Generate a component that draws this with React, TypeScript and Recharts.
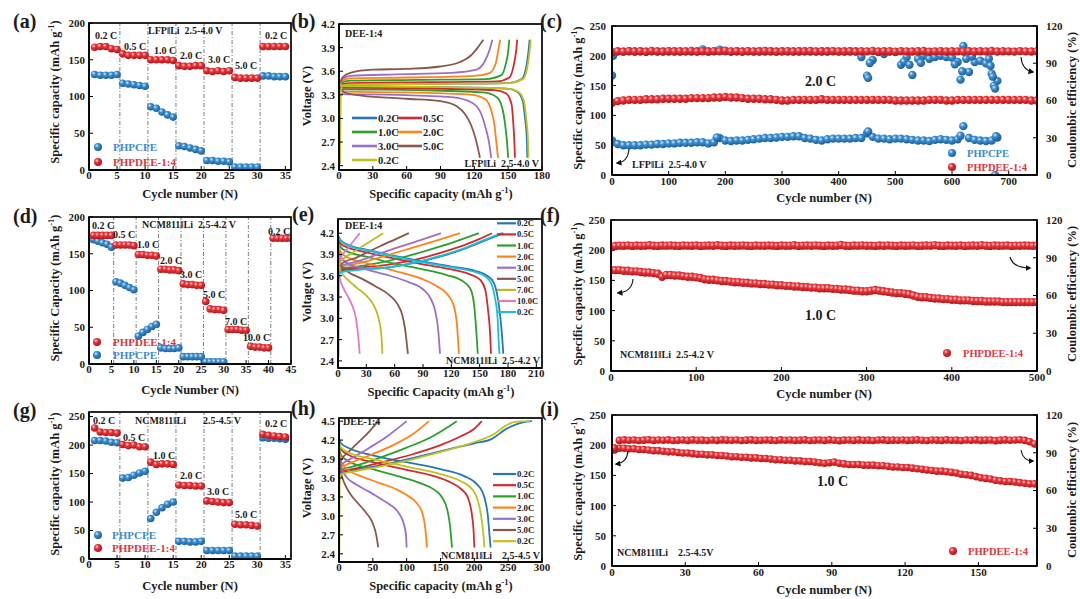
import React from "react";
import { ScatterChart, Scatter, LineChart, Line, XAxis, YAxis, ReferenceLine } from "recharts";

const FONT = '"Liberation Serif", "Times New Roman", Times, serif';
const INK = "#1b1b1b";
const RED_TXT = "#e0363c";
const BLUE_TXT = "#3a8cc9";

const C02 = "#2677b8";
const C05 = "#d42a2f";
const C10 = "#2ca02c";
const C20 = "#ff8418";
const C30 = "#9c6fc8";
const C50 = "#8c564b";
const C70 = "#bcbd22";
const C100 = "#e37ac6";
const C02C = "#1cbfd8";
const OLIVE = "#c2c21e";

// ---------- (a) LFP rate ----------
const A_RED = [167,168,168,165,164, 158,156,156,156,156, 150,150,150,150,149, 142,141,141,142,142, 135,134,135,134,135, 126,125,125,125,125, 168,168,168,168,168];
const A_BLUE = [130,129,129,129,130, 118,117,116,115,114, 86,84,79,75,72, 33,32,30,28,26, 13,13,12,12,11, 4,4,4,4,4, 128,128,127,127,127];
const A_DIV = [5.5, 10.5, 15.5, 20.5, 25.5, 30.5];
const A_XTICKS = [0, 5, 10, 15, 20, 25, 30, 35];
const CAP200_TICKS = [0, 50, 100, 150, 200];

// ---------- (d) NCM811 rate 2.5-4.2 ----------
const D_RED = [175,175,175,175,175, 162,162,162,162,161, 149,149,148,148,147, 129,129,128,128,127, 109,108,108,107,107, 85,75,74,74,73, 47,47,47,46,46, 24,23,23,22,22, 171,171,171,171,171];
const D_BLUE = [169,167,165,163,159, 112,110,107,104,101, 38,43,47,51,54, 22,21,21,21,22, 10,10,10,10,10, 3,3,3,3,3];
const D_DIV = [5.5, 10.5, 15.5, 20.5, 25.5, 30.5, 35.5, 40.5];
const D_XTICKS = [0, 5, 10, 15, 20, 25, 30, 35, 40, 45];

// ---------- (g) NCM811 rate 2.5-4.5 ----------
const G_RED = [230,223,222,222,221, 201,199,200,197,197, 170,166,167,167,166, 130,129,129,128,128, 102,101,100,99,99, 61,60,60,59,58, 219,217,216,215,214];
const G_BLUE = [208,208,207,205,204, 142,143,147,151,154, 71,82,90,96,100, 31,31,30,30,31, 15,15,15,15,15, 5,5,5,5,5, 213,212,212,211,210];
const CAP250_TICKS = [0, 50, 100, 150, 200, 250];

// ---------- (b) LFP voltage profiles [capacity, voltage] ----------
const B_CH_02 = [[0,3.34],[3,3.42],[10,3.43],[80,3.44],[150,3.45],[162,3.5],[166,3.65],[168,3.85],[169,4.0]];
const B_DC_02 = [[0,3.45],[3,3.41],[80,3.4],[148,3.38],[158,3.34],[163,3.22],[165,3.0],[166.5,2.75],[167,2.5]];
const B_CH_05 = [[0,3.35],[3,3.44],[10,3.45],[80,3.46],[140,3.47],[151,3.52],[155,3.68],[157,3.85],[158,4.0]];
const B_DC_05 = [[0,3.45],[3,3.39],[80,3.38],[138,3.36],[148,3.32],[153,3.18],[154.5,2.95],[155.5,2.7],[156,2.5]];
const B_CH_10 = [[0,3.36],[3,3.46],[10,3.48],[70,3.49],[130,3.5],[144,3.55],[148,3.7],[150,3.85],[151,4.0]];
const B_DC_10 = [[0,3.45],[3,3.37],[70,3.36],[128,3.33],[140,3.27],[145,3.12],[147.5,2.9],[149,2.7],[150,2.5]];
const B_CH_20 = [[0,3.37],[3,3.48],[10,3.51],[60,3.52],[120,3.54],[134,3.58],[139,3.7],[141,3.85],[143,4.0]];
const B_DC_20 = [[0,3.44],[3,3.34],[60,3.33],[118,3.3],[130,3.24],[135,3.1],[138,2.9],[139.5,2.7],[141,2.5]];
const B_CH_30 = [[0,3.38],[3,3.5],[10,3.54],[50,3.56],[100,3.58],[122,3.62],[129,3.72],[133,3.85],[136,4.0]];
const B_DC_30 = [[0,3.44],[3,3.31],[50,3.3],[100,3.27],[118,3.2],[126,3.06],[130,2.88],[133,2.7],[135,2.5]];
const B_CH_50 = [[0,3.4],[3,3.52],[10,3.58],[30,3.62],[60,3.63],[90,3.66],[108,3.72],[117,3.8],[123,3.9],[128,4.0]];
const B_DC_50 = [[0,3.42],[5,3.33],[20,3.29],[60,3.25],[90,3.22],[105,3.15],[112,3.05],[117,2.92],[121,2.75],[125,2.5]];
const B_CH_02B = [[1,2.42],[1.5,3.3],[3,3.42],[10,3.43],[80,3.44],[150,3.45],[163,3.5],[167,3.65],[169,3.85],[170,4.0]];
const B_DC_02B = [[0,3.45],[3,3.41],[80,3.4],[149,3.38],[159,3.34],[164,3.22],[166,3.0],[167.5,2.75],[168,2.5]];
const B_LABELS = ["0.2C", "0.5C", "1.0C", "2.0C", "3.0C", "5.0C", "0.2C"];

// ---------- (e) NCM811 2.5-4.2 V profiles ----------
const E_CH_02 = [[0,3.62],[3,3.67],[20,3.69],[55,3.72],[80,3.78],[108,3.87],[130,3.96],[145,4.04],[160,4.12],[175,4.2]];
const E_DC_02 = [[0,4.17],[3,4.1],[10,4.04],[30,3.97],[60,3.88],[90,3.8],[120,3.73],[145,3.67],[158,3.6],[165,3.5],[169,3.3],[172,3.0],[174,2.7],[175,2.5]];
const E_CH_05 = [[0,3.63],[3,3.68],[20,3.71],[50,3.75],[80,3.82],[110,3.93],[135,4.04],[150,4.12],[163,4.2]];
const E_DC_05 = [[0,4.13],[3,4.05],[10,4.0],[30,3.93],[60,3.84],[90,3.76],[120,3.69],[140,3.62],[150,3.55],[156,3.4],[159,3.1],[161,2.8],[162,2.5]];
const E_CH_10 = [[0,3.64],[3,3.7],[20,3.73],[50,3.8],[80,3.9],[110,4.02],[130,4.11],[149,4.2]];
const E_DC_10 = [[0,4.1],[3,4.0],[10,3.94],[30,3.87],[60,3.77],[90,3.69],[115,3.61],[130,3.54],[140,3.42],[144,3.2],[146,2.9],[148,2.5]];
const E_CH_20 = [[0,3.65],[3,3.72],[20,3.77],[50,3.88],[80,4.0],[105,4.1],[129,4.2]];
const E_DC_20 = [[0,4.05],[3,3.93],[10,3.86],[30,3.78],[60,3.67],[90,3.55],[105,3.45],[115,3.35],[122,3.2],[126,2.9],[128,2.5]];
const E_CH_30 = [[0,3.66],[3,3.74],[20,3.8],[50,3.94],[80,4.07],[109,4.2]];
const E_DC_30 = [[0,4.0],[3,3.86],[10,3.78],[30,3.69],[55,3.6],[75,3.51],[90,3.41],[98,3.28],[103,3.1],[106,2.85],[108,2.5]];
const E_CH_50 = [[0,3.67],[3,3.76],[20,3.86],[45,4.02],[60,4.11],[75,4.2]];
const E_DC_50 = [[0,3.9],[3,3.75],[10,3.66],[25,3.56],[40,3.45],[55,3.32],[63,3.2],[68,3.05],[71,2.85],[74,2.5]];
const E_CH_70 = [[0,3.68],[3,3.8],[15,3.92],[30,4.05],[48,4.2]];
const E_DC_70 = [[0,3.82],[3,3.66],[10,3.55],[20,3.43],[30,3.32],[38,3.18],[43,3.0],[46,2.75],[47,2.5]];
const E_CH_100 = [[0,3.7],[3,3.85],[10,3.98],[17,4.1],[23,4.2]];
const E_DC_100 = [[0,3.72],[2,3.56],[6,3.42],[10,3.32],[15,3.18],[19,3.0],[21,2.8],[23,2.5]];
const E_CH_02B = [[0.5,2.45],[0.8,3.55],[3,3.65],[20,3.68],[55,3.72],[80,3.78],[108,3.88],[130,3.97],[145,4.05],[160,4.13],[174,4.2]];
const E_DC_02B = [[0,4.16],[3,4.09],[10,4.03],[30,3.96],[60,3.87],[90,3.79],[120,3.72],[143,3.66],[155,3.6],[162,3.5],[166,3.3],[169,3.0],[170,2.7],[171,2.5]];
const E_LABELS = ["0.2C", "0.5C", "1.0C", "2.0C", "3.0C", "5.0C", "7.0C", "10.0C", "0.2C"];

// ---------- (h) NCM811 2.5-4.5 V profiles ----------
const H_CH_02 = [[0,3.62],[3,3.68],[20,3.72],[60,3.8],[110,3.92],[160,4.05],[200,4.15],[226,4.22],[246,4.37],[260,4.44],[272,4.48],[285,4.5]];
const H_DC_02 = [[0,4.23],[3,4.15],[15,4.07],[50,3.96],[100,3.85],[150,3.74],[185,3.63],[204,3.5],[212,3.38],[217,3.2],[220,3.0],[222,2.75],[224,2.5]];
const H_CH_05 = [[0,3.64],[3,3.7],[20,3.74],[60,3.84],[110,3.98],[150,4.12],[180,4.26],[200,4.38],[211,4.5]];
const H_DC_05 = [[0,4.15],[3,4.05],[15,3.96],[50,3.85],[100,3.73],[140,3.63],[165,3.53],[180,3.43],[190,3.3],[196,3.05],[199,2.75],[200,2.5]];
const H_CH_10 = [[0,3.66],[3,3.73],[20,3.78],[60,3.92],[100,4.08],[140,4.27],[160,4.4],[174,4.5]];
const H_DC_10 = [[0,4.1],[3,3.96],[15,3.86],[50,3.74],[90,3.62],[120,3.52],[140,3.42],[152,3.3],[160,3.1],[164,2.85],[167,2.5]];
const H_CH_20 = [[0,3.68],[3,3.76],[20,3.85],[50,3.98],[80,4.12],[110,4.3],[133,4.5]];
const H_DC_20 = [[0,4.04],[3,3.86],[12,3.74],[35,3.62],[60,3.52],[85,3.42],[100,3.33],[115,3.2],[123,3.05],[127,2.85],[130,2.5]];
const H_CH_30 = [[0,3.7],[3,3.8],[20,3.92],[45,4.08],[70,4.25],[100,4.5]];
const H_DC_30 = [[0,3.98],[3,3.78],[10,3.63],[25,3.5],[45,3.38],[60,3.28],[75,3.18],[88,3.05],[95,2.9],[99,2.7],[100,2.5]];
const H_CH_50 = [[0,3.75],[3,3.88],[15,4.02],[30,4.18],[45,4.34],[58,4.5]];
const H_DC_50 = [[0,3.9],[3,3.68],[8,3.52],[16,3.36],[28,3.2],[40,3.05],[50,2.88],[55,2.7],[58,2.5]];
const H_CH_02B = [[0.5,2.42],[0.8,3.5],[3,3.66],[20,3.7],[60,3.78],[110,3.9],[160,4.04],[200,4.17],[230,4.3],[245,4.42],[260,4.49],[282,4.5]];
const H_DC_02B = [[0,4.18],[3,4.08],[15,4.0],[50,3.9],[100,3.78],[150,3.66],[180,3.55],[197,3.42],[205,3.25],[210,3.0],[213,2.75],[215,2.5]];
const H_LABELS = ["0.2C", "0.5C", "1.0C", "2.0C", "3.0C", "5.0C", "0.2C"];

// ---------- (c) LFP long cycling at 2.0 C (every 10 cycles) ----------
const C_RED_CAP = [121,124,125,126,126,126,127,127,127,128, 128,128,128,128,129,129,129,129,130,130, 131,130,130,129,128,128,128,127,127,126, 125,125,126,126,126,126,126,127,126,126, 126,126,126,126,126,126,126,126,126,126, 125,125,125,125,125,125,126,126,126,125, 125,126,126,126,126,126,126,126,126,126, 126,126,126,126,125,125];
const C_RED_CE = [98.9,99.6,99.4,99.8,99.5,99.7,99.3,99.9,99.6,99.4, 99.8,99.5,99.7,99.6,99.9,99.4,99.7,99.5,99.8,99.6, 100.1,99.5,99.7,99.4,99.8,99.6,99.5,99.9,99.7,99.4, 99.6,99.8,99.5,99.7,99.6,99.9,99.4,99.7,99.5,99.8, 99.6,99.5,99.8,99.4,99.7,99.6,99.9,99.5,99.7,99.6, 99.4,99.8,99.6,99.5,99.7,99.9,99.4,99.6,99.8,99.5, 99.7,99.6,99.4,99.8,99.5,99.7,99.6,99.9,99.5,99.7, 99.6,99.4,99.8,99.6,99.5,99.7];
const C_BLUE_CAP = [58,52,50,50,50,50,51,51,52,52, 53,53,54,54,54,55,55,53,55,62, 58,57,58,58,59,60,61,62,62,63, 64,64,65,65,62,61,59,58,60,61, 61,61,61,62,62,70,64,61,61,60, 61,61,60,59,58,58,57,59,60,59, 58,60,82,62,59,58,57,58,63];
const C_BLUE_CE = [80.2,99.6,99.4,99.7,99.5,99.6,99.4,99.7,99.5,99.6, 99.5,99.7,99.4,99.6,99.5,99.7,101.2,99.5,99.6,101.0, 99.6,99.4,99.7,99.5,99.6,99.4,99.7,99.5,99.6,99.5, 99.7,99.4,99.6,99.5,99.7,99.4,99.6,99.5,99.7,99.6, 99.4,99.6,99.5,99.7,95.0,80.0,92.6,99.0,97.4,99.5, 99.0,88.8,95.0,80.6,93.6,96.0,93.6,95.0,96.0,95.0, 94.6,91.0,104.0,83.0,91.0,92.0,90.0,81.6,75.8];
const C_BLUE_CAP_EXTRA = [[185,63],[452,73],[615,66],[676,0],[678,65]];
const C_BLUE_CE_EXTRA = [[2,96],[452,78.2],[455,90.2],[515,91.2],[525,88.8],[545,90.3],[605,89.2],[615,76.8],[618,83.5],[625,93.6],[635,95.5],[665,93.6],[668,88.0],[672,79.2],[674,72.0],[676,69.6]];
const C_XTICKS = [0, 100, 200, 300, 400, 500, 600, 700];

// ---------- (f) NCM811 long cycling 1.0 C (every 5 cycles) ----------
const F_RED_CAP = [167,167,167,166,166,165,165,164,163,163, 162,161,156,159,159,158,158,157,156,156, 155,154,152,151,151,150,149,149,148,147, 147,146,146,145,145,144,144,143,143,142, 142,141,141,140,140,139,139,138,138,137, 137,137,136,136,135,135,134,133,133,132, 132,133,134,133,132,131,130,129,129,128, 127,125,123,122,122,121,120,120,119,119, 118,118,117,117,117,116,116,116,115,115, 115,115,114,114,114,114,114,114,114,114, 114];
const F_RED_CE = [98.4,99.3,99.6,99.5,99.8,99.4,99.7,99.5,99.6,99.9, 99.5,99.4,99.7,99.6,99.8,99.5,99.4,99.7,99.6,99.5, 99.8,99.4,99.6,99.7,99.5,99.9,99.6,99.4,99.7,99.5, 99.6,99.8,99.5,99.4,99.7,99.6,99.5,99.8,99.6,99.4, 99.7,99.5,99.6,99.9,99.4,99.6,99.7,99.5,99.8,99.6, 99.4,99.7,99.5,99.6,100.1,99.5,99.4,99.7,99.6,99.8, 99.5,99.6,99.4,99.7,99.5,99.8,99.6,99.4,99.7,99.5, 99.6,99.8,99.4,99.5,99.7,99.6,100.0,99.5,99.4,99.7, 99.6,99.5,99.8,99.4,99.6,99.7,99.5,99.9,99.6,99.4, 99.7,99.5,99.6,99.8,99.4,99.6,99.5,99.7,99.6,99.5, 99.6];
const F_XTICKS = [0, 100, 200, 300, 400, 500];

// ---------- (i) NCM811 long cycling 2.5-4.5 V (odd cycles) ----------
const I_RED_CAP = [192,195,195,194,194,193,193,192,191,191, 190,189,189,188,187,187,186,185,185,184, 184,183,183,182,181,181,180,180,179,179, 178,178,177,176,176,175,175,174,174,173, 173,172,171,170,171,172,170,169,168,168, 168,167,167,167,166,166,165,164,164,163, 163,162,161,160,159,158,157,157,156,155, 154,152,151,150,148,146,145,144,142,141, 140,140,139,138,137,136,136];
const I_RED_CE = [93.8,99.8,100.2,99.9,100.1,99.7,100.0,100.3,99.8,100.1, 99.9,100.2,99.7,100.0,100.1,99.8,100.2,99.9,100.0,99.7, 100.1,99.8,100.2,100.0,99.9,100.1,99.7,100.0,100.2,99.8, 99.9,100.1,100.0,99.7,100.2,99.9,100.1,99.8,100.0,100.2, 99.7,100.0,100.1,99.8,100.2,99.9,99.6,100.0,100.1,99.8, 100.2,99.9,100.0,99.7,100.1,100.2,99.8,100.0,99.9,100.1, 99.8,100.0,100.2,99.9,99.7,100.1,100.0,99.8,100.2,99.9, 100.0,99.7,100.1,99.9,100.2,99.8,100.0,100.1,99.6,100.0, 100.2,99.9,100.1,100.3,99.8,98.8,97.0];
const I_XTICKS = [0, 30, 60, 90, 120, 150];
const CE_TICKS = [0, 30, 60, 90, 120];

// ---------- layout helpers ----------
type Rect = [number, number, number, number];
const YW = 44, XH = 24, TM = 6, RM = 8, RW = 40;
const R_A: Rect = [89, 23, 291, 170];
const R_B: Rect = [339, 24, 542, 170];
const R_C: Rect = [612, 26, 1037, 175];
const R_D: Rect = [89, 217, 291, 364];
const R_E: Rect = [338, 219, 542, 368];
const R_F: Rect = [611, 220, 1037, 371];
const R_G: Rect = [89, 412, 291, 559];
const R_H: Rect = [339, 418, 542, 562];
const R_I: Rect = [612, 415, 1037, 566];

function frame(rect: Rect, dual = false) {
  const [x0, y0, x1, y1] = rect;
  return {
    style: { position: "absolute" as const, left: x0 - YW, top: y0 - TM },
    width: x1 - x0 + YW + (dual ? RW : RM),
    height: y1 - y0 + TM + XH,
    margin: { top: TM, right: dual ? 0 : RM, bottom: 0, left: 0 },
  };
}

const tickStyle = { fontFamily: FONT, fontSize: 11, fontWeight: 700, fill: INK };
const axisLine = { stroke: "#000", strokeWidth: 1.5 };
const tickLine = { stroke: "#000", strokeWidth: 1 };

const sphere = (grad: string, r: number) => (p: any) =>
  p.cx == null ? <g /> : <circle cx={p.cx} cy={p.cy} r={r} fill={`url(#${grad})`} />;

const toPts = (vals: number[], start: number, step: number) => vals.map((v, i) => ({ x: start + i * step, y: v }));
const pairPts = (pairs: number[][]) => pairs.map(([x, y]) => ({ x, y }));

function RatePanel({ rect, xMax, xTicks, yMax, yTicks, red, blue, div }: any) {
  const f = frame(rect);
  return (
    <div style={f.style}>
      <ScatterChart width={f.width} height={f.height} margin={f.margin}>
        <XAxis dataKey="x" type="number" domain={[0, xMax]} ticks={xTicks} interval={0} allowDataOverflow height={XH}
          tick={tickStyle} axisLine={axisLine} tickLine={tickLine} tickSize={-4} tickMargin={5} />
        <YAxis dataKey="y" type="number" domain={[0, yMax]} ticks={yTicks} interval={0} allowDataOverflow width={YW}
          tick={tickStyle} axisLine={axisLine} tickLine={tickLine} tickSize={-4} tickMargin={8} />
        {div.map((d: number) => (
          <ReferenceLine key={d} x={d} stroke="#6d6d6d" strokeWidth={0.9} strokeDasharray="4 2 1 2" />
        ))}
        <Scatter data={toPts(blue, 1, 1)} shape={sphere("sphBlue", 3.8)} isAnimationActive={false} />
        <Scatter data={toPts(red, 1, 1)} shape={sphere("sphRed", 3.8)} isAnimationActive={false} />
      </ScatterChart>
    </div>
  );
}

function VoltPanel({ rect, xMax, xTicks, yDom, yTicks, curves }: any) {
  const f = frame(rect);
  return (
    <div style={f.style}>
      <LineChart width={f.width} height={f.height} margin={f.margin}>
        <XAxis dataKey="q" type="number" domain={[0, xMax]} ticks={xTicks} interval={0} allowDataOverflow height={XH}
          tick={tickStyle} axisLine={axisLine} tickLine={tickLine} tickSize={-4} tickMargin={5} />
        <YAxis type="number" domain={yDom} ticks={yTicks} interval={0} allowDataOverflow width={YW}
          tickFormatter={(v: number) => v.toFixed(1)}
          tick={tickStyle} axisLine={axisLine} tickLine={tickLine} tickSize={-4} tickMargin={8} />
        {curves.map((c: any, i: number) => (
          <Line key={i} data={c.pts.map(([q, v]: number[]) => ({ q, v }))} dataKey="v" type="monotone"
            stroke={c.color} strokeWidth={1.8} dot={false} isAnimationActive={false} />
        ))}
      </LineChart>
    </div>
  );
}

function CyclePanel({ rect, xMax, xTicks, series, r }: any) {
  const f = frame(rect, true);
  return (
    <div style={f.style}>
      <ScatterChart width={f.width} height={f.height} margin={f.margin}>
        <XAxis dataKey="x" type="number" domain={[0, xMax]} ticks={xTicks} interval={0} allowDataOverflow height={XH}
          tick={tickStyle} axisLine={axisLine} tickLine={tickLine} tickSize={-4} tickMargin={6} />
        <YAxis yAxisId="cap" dataKey="y" type="number" domain={[0, 250]} ticks={CAP250_TICKS} interval={0} allowDataOverflow width={YW}
          tick={tickStyle} axisLine={axisLine} tickLine={tickLine} tickSize={-4} tickMargin={10} />
        <YAxis yAxisId="ce" orientation="right" dataKey="y" type="number" domain={[0, 120]} ticks={CE_TICKS} interval={0} allowDataOverflow width={RW}
          tick={tickStyle} axisLine={axisLine} tickLine={tickLine} tickSize={-4} tickMargin={13} />
        {series.map((s: any, i: number) => (
          <Scatter key={i} yAxisId={s.axis} data={s.pts} shape={sphere(s.grad, r)} isAnimationActive={false} />
        ))}
      </ScatterChart>
    </div>
  );
}

// ---------- overlay text helpers ----------
const T = ({ x, y, s = 10, a = "start", f = INK, children }: any) => (
  <text x={x} y={y} fontSize={s} textAnchor={a} fill={f} fontFamily={FONT} fontWeight={700} style={{ whiteSpace: "pre" }}>
    {children}
  </text>
);
const RT = ({ x, y, s = 12.5, children }: any) => (
  <text transform={`translate(${x},${y}) rotate(-90)`} fontSize={s} textAnchor="middle" fill={INK} fontFamily={FONT} fontWeight={700}>
    {children}
  </text>
);
const sup = (s: number) => [
  <tspan key="a" dy={-s * 0.38} fontSize={s * 0.68}>-1</tspan>,
  <tspan key="b" dy={s * 0.38}>)</tspan>,
];
const Box = ({ r }: any) => (
  <rect x={r[0]} y={r[1]} width={r[2] - r[0]} height={r[3] - r[1]} fill="none" stroke="#000" strokeWidth={1.7} />
);
const Ball = ({ x, y, g, r = 4 }: any) => <circle cx={x} cy={y} r={r} fill={`url(#${g})`} />;
const Arrow = ({ d }: any) => <path d={d} fill="none" stroke="#111" strokeWidth={1.1} markerEnd="url(#ah)" />;

function Overlay() {
  const bLeg = [
    [352, 118, C02, B_LABELS[0]], [397, 118, C05, B_LABELS[1]],
    [352, 132, C10, B_LABELS[2]], [397, 132, C20, B_LABELS[3]],
    [352, 146, C30, B_LABELS[4]], [397, 146, C50, B_LABELS[5]],
    [352, 160, OLIVE, B_LABELS[6]],
  ];
  const eCols = [C02, C05, C10, C20, C30, C50, C70, C100, C02C];
  const hCols = [C02, C05, C10, C20, C30, C50, OLIVE];
  return (
    <svg width={1080} height={599} style={{ position: "absolute", left: 0, top: 0, pointerEvents: "none" }}>
      <defs>
        <radialGradient id="sphRed" cx="0.36" cy="0.34" r="0.7">
          <stop offset="0" stopColor="#ffd6d6" />
          <stop offset="0.35" stopColor="#ec3439" />
          <stop offset="1" stopColor="#a3151a" />
        </radialGradient>
        <radialGradient id="sphBlue" cx="0.36" cy="0.34" r="0.7">
          <stop offset="0" stopColor="#d9eefc" />
          <stop offset="0.35" stopColor="#3b8fd0" />
          <stop offset="1" stopColor="#1a5a92" />
        </radialGradient>
        <marker id="ah" markerWidth="6" markerHeight="6" refX="4.5" refY="3" orient="auto" markerUnits="userSpaceOnUse">
          <path d="M0,0 L6,3 L0,6 z" fill="#111" />
        </marker>
      </defs>

      {[R_A, R_B, R_C, R_D, R_E, R_F, R_G, R_H, R_I].map((r, i) => <Box key={i} r={r} />)}

      {/* panel letters */}
      <T x={13} y={28} s={20}>(a)</T>
      <T x={291} y={28} s={20}>(b)</T>
      <T x={540} y={28} s={20}>(c)</T>
      <T x={13} y={223} s={20}>(d)</T>
      <T x={292} y={221} s={20}>(e)</T>
      <T x={540} y={222} s={20}>(f)</T>
      <T x={13} y={417} s={20}>(g)</T>
      <T x={291} y={415} s={20}>(h)</T>
      <T x={540} y={416} s={20}>(i)</T>

      {/* x-axis titles */}
      <T x={190} y={198} s={12.5} a="middle">Cycle number (N)</T>
      <T x={441} y={198} s={12.5} a="middle">Specific capacity (mAh g{sup(12.5)}</T>
      <T x={824} y={202} s={12.5} a="middle">Cycle number (N)</T>
      <T x={190} y={394} s={12.5} a="middle">Cycle Number (N)</T>
      <T x={441} y={396} s={12.5} a="middle">Specific Capacity (mAh g{sup(12.5)}</T>
      <T x={824} y={398} s={12.5} a="middle">Cycle number (N)</T>
      <T x={190} y={590} s={12.5} a="middle">Cycle number (N)</T>
      <T x={441} y={590} s={12.5} a="middle">Specific capacity (mAh g{sup(12.5)}</T>
      <T x={824} y={594} s={12.5} a="middle">Cycle number (N)</T>

      {/* y-axis titles */}
      <RT x={59} y={92}>Specific capacity (mAh g{sup(12.5)}</RT>
      <RT x={59} y={288}>Specific Capacity (mAh g{sup(12.5)}</RT>
      <RT x={59} y={484}>Specific capacity (mAh g{sup(12.5)}</RT>
      <RT x={311} y={96}>Voltage (V)</RT>
      <RT x={311} y={292}>Voltage (V)</RT>
      <RT x={311} y={488}>Voltage (V)</RT>
      <RT x={582} y={98}>Specific capacity (mAh g{sup(12.5)}</RT>
      <RT x={582} y={294}>Specific capacity (mAh g{sup(12.5)}</RT>
      <RT x={582} y={489}>Specific capacity (mAh g{sup(12.5)}</RT>
      <RT x={1076} y={100}>Coulombic efficiency (%)</RT>
      <RT x={1076} y={294}>Coulombic efficiency (%)</RT>
      <RT x={1076} y={490}>Coulombic efficiency (%)</RT>

      {/* (a) annotations */}
      <T x={95} y={39}>0.2 C</T>
      <T x={124} y={50}>0.5 C</T>
      <T x={154} y={54}>1.0 C</T>
      <T x={180} y={59}>2.0 C</T>
      <T x={208} y={63}>3.0 C</T>
      <T x={235} y={69}>5.0 C</T>
      <T x={265} y={39}>0.2 C</T>
      <T x={148} y={34}>{"LFP\u2016Li  2.5-4.0 V"}</T>
      <Ball x={98} y={147} g="sphBlue" />
      <T x={113} y={151} s={11} f={BLUE_TXT}>PHPCPE</T>
      <Ball x={98} y={162} g="sphRed" />
      <T x={113} y={166} s={11} f={RED_TXT}>PHPDEE-1:4</T>

      {/* (d) annotations */}
      <T x={92} y={229}>0.2 C</T>
      <T x={113} y={238}>0.5 C</T>
      <T x={137} y={248}>1.0 C</T>
      <T x={160} y={264}>2.0 C</T>
      <T x={180} y={278}>3.0 C</T>
      <T x={203} y={298}>5.0 C</T>
      <T x={225} y={325}>7.0 C</T>
      <T x={243} y={341}>10.0 C</T>
      <T x={268} y={235}>0.2 C</T>
      <T x={142} y={228}>{"NCM811\u2016Li  2.5-4.2 V"}</T>
      <Ball x={97} y={342} g="sphRed" />
      <T x={113} y={346} s={11} f={RED_TXT}>PHPDEE-1:4</T>
      <Ball x={97} y={355} g="sphBlue" />
      <T x={113} y={359} s={11} f={BLUE_TXT}>PHPCPE</T>

      {/* (g) annotations */}
      <T x={93} y={424}>0.2 C</T>
      <T x={123} y={441}>0.5 C</T>
      <T x={153} y={459}>1.0 C</T>
      <T x={180} y={479}>2.0 C</T>
      <T x={207} y={495}>3.0 C</T>
      <T x={235} y={518}>5.0 C</T>
      <T x={265} y={427}>0.2 C</T>
      <T x={135} y={424}>{"NCM811\u2016Li"}</T>
      <T x={203} y={424}>2.5-4.5 V</T>
      <Ball x={98} y={535} g="sphBlue" />
      <T x={112} y={539} s={11} f={BLUE_TXT}>PHPCPE</T>
      <Ball x={98} y={548} g="sphRed" />
      <T x={112} y={552} s={11} f={RED_TXT}>PHPDEE-1:4</T>

      {/* (b) */}
      <T x={345} y={37}>DEE-1:4</T>
      {bLeg.map(([x, y, c, l]: any, i) => (
        <g key={i}>
          <line x1={x} x2={x + 25} y1={y} y2={y} stroke={c} strokeWidth={2.6} />
          <T x={x + 26} y={y + 3.6} s={10.5}>{l}</T>
        </g>
      ))}
      <T x={539} y={167} a="end">{"LFP\u2016Li  2.5-4.0 V"}</T>

      {/* (e) */}
      <T x={345} y={229}>DEE-1:4</T>
      {E_LABELS.map((l, i) => (
        <g key={i}>
          <line x1={497} x2={516} y1={223.3 + i * 11.1} y2={223.3 + i * 11.1} stroke={eCols[i]} strokeWidth={2.2} />
          <T x={517} y={226.3 + i * 11.1} s={8.5}>{l}</T>
        </g>
      ))}
      <T x={540} y={364} a="end">{"NCM811\u2016Li  2.5-4.2 V"}</T>

      {/* (h) */}
      <T x={343} y={425}>DEE-1:4</T>
      {H_LABELS.map((l, i) => (
        <g key={i}>
          <line x1={493} x2={516} y1={474 + i * 11.2} y2={474 + i * 11.2} stroke={hCols[i]} strokeWidth={2.2} />
          <T x={517} y={477 + i * 11.2} s={8.8}>{l}</T>
        </g>
      ))}
      <T x={540} y={559} a="end">{"NCM811\u2016Li    2.5-4.5 V"}</T>

      {/* (c) */}
      <T x={805} y={86} s={14}>2.0 C</T>
      <T x={632} y={168}>{"LFP\u2016Li  2.5-4.0 V"}</T>
      <Ball x={952} y={153} g="sphBlue" />
      <T x={967} y={157} s={10.5} f={BLUE_TXT}>PHPCPE</T>
      <Ball x={952} y={167} g="sphRed" />
      <T x={967} y={171} s={10.5} f={RED_TXT}>PHPDEE-1:4</T>
      <Arrow d="M629,149 Q628,162 617,163" />
      <Arrow d="M1021,57 Q1022,70 1033,72" />

      {/* (f) */}
      <T x={805} y={320} s={14}>1.0 C</T>
      <T x={620} y={358}>{"NCM811\u2016Li  2.5-4.2 V"}</T>
      <Ball x={947} y={353} g="sphRed" />
      <T x={963} y={357} s={10.5} f={RED_TXT}>PHPDEE-1:4</T>
      <Arrow d="M633,279 Q632,292 618,293" />
      <Arrow d="M1010,257 Q1013,268 1030,268" />

      {/* (i) */}
      <T x={817} y={486} s={14}>1.0 C</T>
      <T x={617} y={556}>{"NCM811\u2016Li    2.5-4.5V"}</T>
      <Ball x={953} y={551} g="sphRed" />
      <T x={968} y={555} s={10.5} f={RED_TXT}>PHPDEE-1:4</T>
      <Arrow d="M628,451 Q627,463 616,464" />
      <Arrow d="M1021,450 Q1023,461 1033,461" />
    </svg>
  );
}

export default function App() {
  const bCurves = [
    [C02, B_CH_02, B_DC_02], [C05, B_CH_05, B_DC_05], [C10, B_CH_10, B_DC_10], [C20, B_CH_20, B_DC_20],
    [C30, B_CH_30, B_DC_30], [C50, B_CH_50, B_DC_50], [OLIVE, B_CH_02B, B_DC_02B],
  ].flatMap(([color, ch, dc]: any) => [{ color, pts: ch }, { color, pts: dc }]);
  const eCurves = [
    [C02, E_CH_02, E_DC_02], [C05, E_CH_05, E_DC_05], [C10, E_CH_10, E_DC_10], [C20, E_CH_20, E_DC_20],
    [C30, E_CH_30, E_DC_30], [C50, E_CH_50, E_DC_50], [C70, E_CH_70, E_DC_70], [C100, E_CH_100, E_DC_100],
    [C02C, E_CH_02B, E_DC_02B],
  ].flatMap(([color, ch, dc]: any) => [{ color, pts: ch }, { color, pts: dc }]);
  const hCurves = [
    [C02, H_CH_02, H_DC_02], [C05, H_CH_05, H_DC_05], [C10, H_CH_10, H_DC_10], [C20, H_CH_20, H_DC_20],
    [C30, H_CH_30, H_DC_30], [C50, H_CH_50, H_DC_50], [OLIVE, H_CH_02B, H_DC_02B],
  ].flatMap(([color, ch, dc]: any) => [{ color, pts: ch }, { color, pts: dc }]);

  const cSeries = [
    { axis: "cap", grad: "sphBlue", pts: [...toPts(C_BLUE_CAP, 0, 10), ...pairPts(C_BLUE_CAP_EXTRA)] },
    { axis: "ce", grad: "sphBlue", pts: [...toPts(C_BLUE_CE, 0, 10), ...pairPts(C_BLUE_CE_EXTRA)] },
    { axis: "cap", grad: "sphRed", pts: toPts(C_RED_CAP, 0, 10) },
    { axis: "ce", grad: "sphRed", pts: toPts(C_RED_CE, 0, 10) },
  ];
  const fSeries = [
    { axis: "cap", grad: "sphRed", pts: toPts(F_RED_CAP, 0, 5) },
    { axis: "ce", grad: "sphRed", pts: toPts(F_RED_CE, 0, 5) },
  ];
  const iSeries = [
    { axis: "cap", grad: "sphRed", pts: toPts(I_RED_CAP, 1, 2) },
    { axis: "ce", grad: "sphRed", pts: toPts(I_RED_CE, 1, 2) },
  ];

  return (
    <div style={{ position: "absolute", left: 0, top: 0, width: 1080, height: 599, background: "#fff", overflow: "hidden" }}>
      <RatePanel rect={R_A} xMax={36} xTicks={A_XTICKS} yMax={200} yTicks={CAP200_TICKS} red={A_RED} blue={A_BLUE} div={A_DIV} />
      <RatePanel rect={R_D} xMax={45} xTicks={D_XTICKS} yMax={200} yTicks={CAP200_TICKS} red={D_RED} blue={D_BLUE} div={D_DIV} />
      <RatePanel rect={R_G} xMax={36} xTicks={A_XTICKS} yMax={258} yTicks={CAP250_TICKS} red={G_RED} blue={G_BLUE} div={A_DIV} />
      <VoltPanel rect={R_B} xMax={180} xTicks={[0, 30, 60, 90, 120, 150, 180]} yDom={[2.345, 4.2]}
        yTicks={[2.4, 2.7, 3.0, 3.3, 3.6, 3.9, 4.2]} curves={bCurves} />
      <VoltPanel rect={R_E} xMax={216} xTicks={[0, 30, 60, 90, 120, 150, 180, 210]} yDom={[2.3, 4.4]}
        yTicks={[2.4, 2.7, 3.0, 3.3, 3.6, 3.9, 4.2]} curves={eCurves} />
      <VoltPanel rect={R_H} xMax={300} xTicks={[0, 50, 100, 150, 200, 250, 300]} yDom={[2.27, 4.55]}
        yTicks={[2.4, 2.7, 3.0, 3.3, 3.6, 3.9, 4.2, 4.5]} curves={hCurves} />
      <CyclePanel rect={R_C} xMax={750} xTicks={C_XTICKS} series={cSeries} r={4.2} />
      <CyclePanel rect={R_F} xMax={500} xTicks={F_XTICKS} series={fSeries} r={4.2} />
      <CyclePanel rect={R_I} xMax={174} xTicks={I_XTICKS} series={iSeries} r={3.8} />
      <Overlay />
    </div>
  );
}
